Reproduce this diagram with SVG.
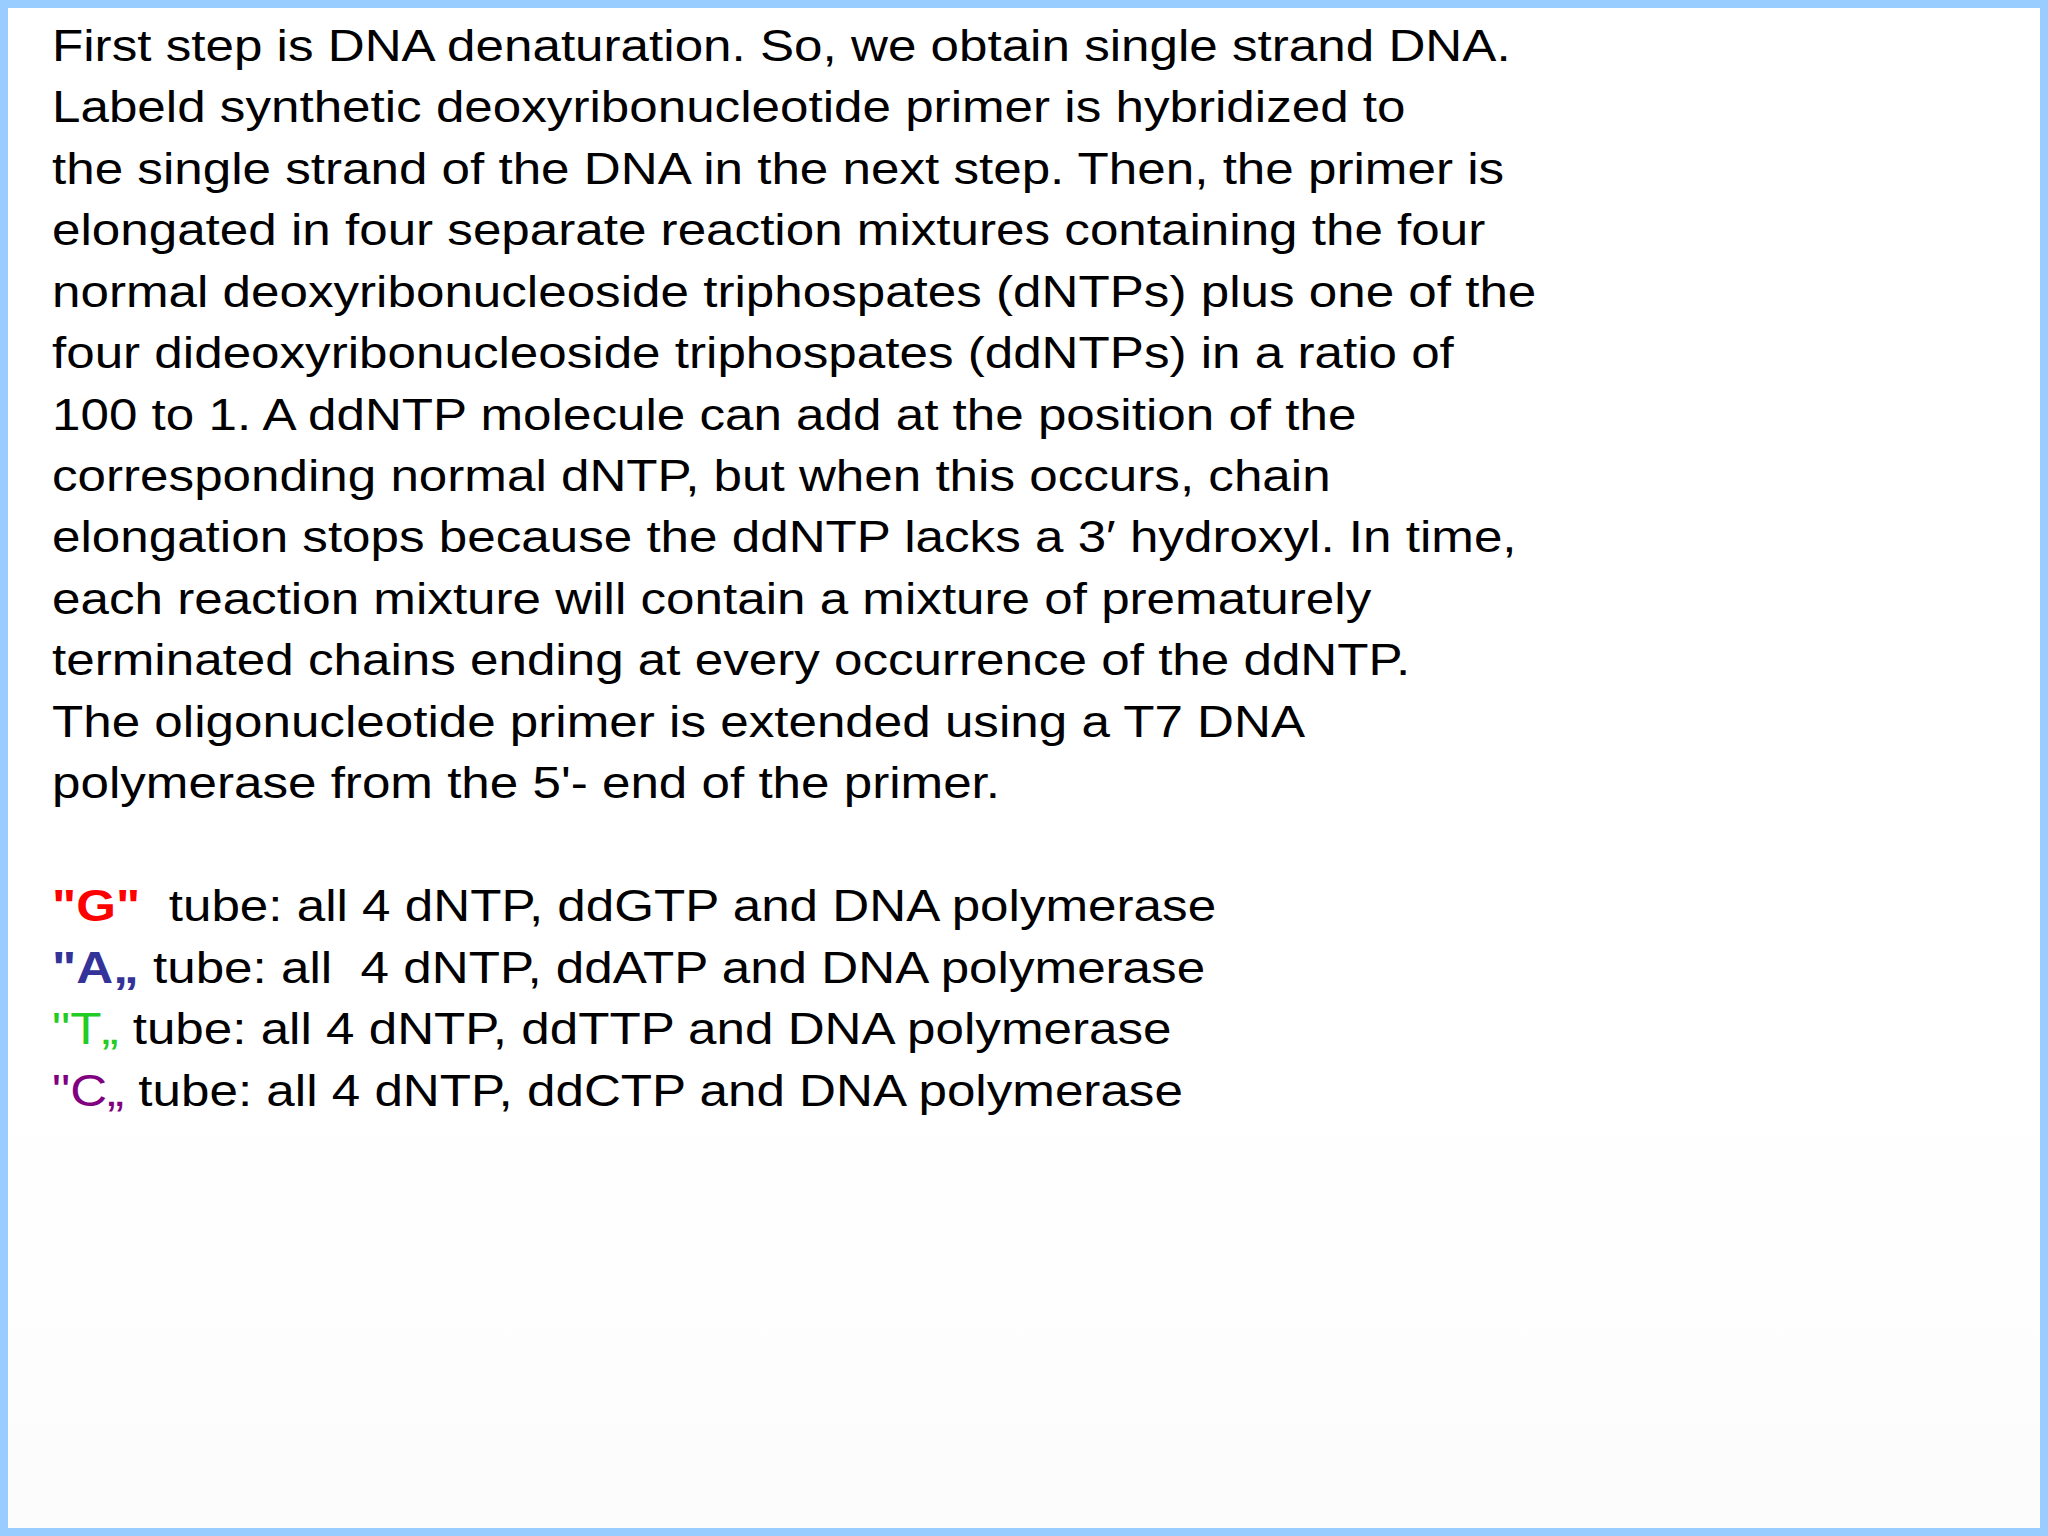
<svg xmlns="http://www.w3.org/2000/svg" width="2048" height="1536" viewBox="0 0 2048 1536">
<style>
text{font-family:"Liberation Sans",Arial,sans-serif;font-size:45px;fill:#000}
.b{font-weight:bold}
</style>
<defs><linearGradient id="bg" x1="0" y1="0" x2="0" y2="1"><stop offset="0.7" stop-color="#ffffff"/><stop offset="1" stop-color="#fcfcfd"/></linearGradient></defs>
<rect x="4" y="4" width="2040" height="1528" fill="url(#bg)" stroke="#99ccff" stroke-width="8"/>
<g id="paragraph" transform="translate(52,0) scale(1.137,1)">
<text x="0" y="61">First step is DNA denaturation. So, we obtain single strand DNA.</text>
<text x="0" y="122">Labeld synthetic deoxyribonucleotide primer is hybridized to</text>
<text x="0" y="184">the single strand of the DNA in the next step. Then, the primer is</text>
<text x="0" y="245">elongated in four separate reaction mixtures containing the four</text>
<text x="0" y="307">normal deoxyribonucleoside triphospates (dNTPs) plus one of the</text>
<text x="0" y="368">four dideoxyribonucleoside triphospates (ddNTPs) in a ratio of</text>
<text x="0" y="430">100 to 1. A ddNTP molecule can add at the position of the</text>
<text x="0" y="491">corresponding normal dNTP, but when this occurs, chain</text>
<text x="0" y="552">elongation stops because the ddNTP lacks a 3′ hydroxyl. In time,</text>
<text x="0" y="614">each reaction mixture will contain a mixture of prematurely</text>
<text x="0" y="675">terminated chains ending at every occurrence of the ddNTP.</text>
<text x="0" y="737">The oligonucleotide primer is extended using a T7 DNA</text>
<text x="0" y="798">polymerase from the 5'- end of the primer.</text>
</g>
<g id="tubes" transform="translate(52,0) scale(1.137,1)">
<text x="0" y="921" xml:space="preserve"><tspan class="b" fill="#ff0000">"G"</tspan>  tube: all 4 dNTP, ddGTP and DNA polymerase</text>
<text x="0" y="983" xml:space="preserve"><tspan class="b" fill="#333399">"A„</tspan> tube: all  4 dNTP, ddATP and DNA polymerase</text>
<text x="0" y="1044" xml:space="preserve"><tspan fill="#22cc22">"T„</tspan> tube: all 4 dNTP, ddTTP and DNA polymerase</text>
<text x="0" y="1106" xml:space="preserve"><tspan fill="#800080">"C„</tspan> tube: all 4 dNTP, ddCTP and DNA polymerase</text>
</g>
</svg>
